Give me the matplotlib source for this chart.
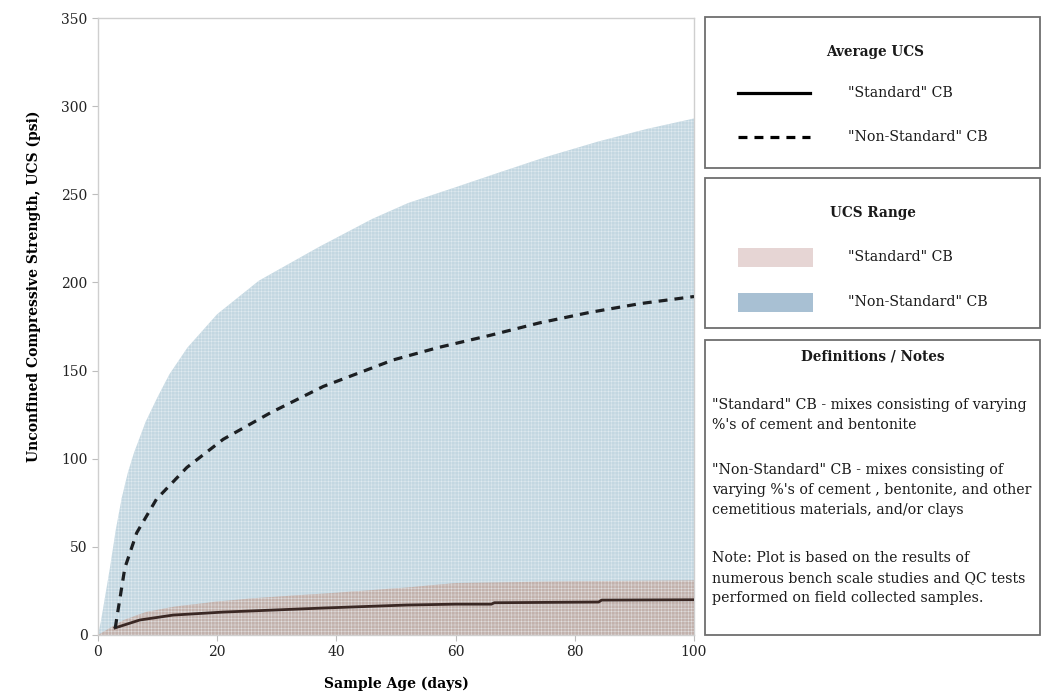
import numpy as np
import matplotlib
matplotlib.use("Agg")
import matplotlib.pyplot as plt
from matplotlib.patches import Rectangle
from matplotlib.lines import Line2D

plt.rcParams['font.family'] = ['DejaVu Serif']
plt.rcParams['hatch.color'] = '#eef3f6'
plt.rcParams['hatch.linewidth'] = 0.25

# --- data ---
# upper edge of "Non-Standard" UCS range
ns_range_x = [0, 0.5, 1, 2, 3, 4, 5, 6, 8, 10, 12, 15, 20, 27, 37, 46, 52, 60, 67, 75, 84, 92, 100]
ns_range_y = [0, 8, 18, 38, 60, 78, 92, 103, 121, 135, 148, 163, 182, 201, 220, 236, 245, 254, 262, 271, 280, 287, 293]
# upper edge of "Standard" UCS range
st_range_x = [0, 1, 3, 4.3, 8, 12.6, 20, 26.6, 40, 52, 60, 80, 100]
st_range_y = [0, 2, 6, 8.5, 13, 16, 19, 21, 24, 27, 29.5, 30.5, 31]
# average "Non-Standard" CB
ns_avg_x = [2.9, 3.1, 4.5, 6.5, 9.8, 14.9, 21, 28.9, 37.8, 49.5, 57, 65.8, 74, 82.5, 91, 100]
ns_avg_y = [4, 8.5, 38, 58, 77, 95, 111, 126, 141, 156, 163, 170, 177, 183, 188, 192]
# average "Standard" CB
st_avg_x = [2.85, 7, 12.6, 21, 37.8, 51.8, 60, 66, 66.5, 84, 84.5, 100]
st_avg_y = [4, 8.5, 11.3, 13, 15.3, 17, 17.5, 17.5, 18.3, 18.7, 19.8, 20]

xticks = [0, 20, 40, 60, 80, 100]
yticks = [0, 50, 100, 150, 200, 250, 300, 350]

W, H = 1042, 694
fig = plt.figure(figsize=(W / 100, H / 100), dpi=100)

def fx(p):
    return p / W

def fy(p):
    return 1 - p / H

ax = fig.add_axes([fx(98), fy(635), fx(694) - fx(98), fy(18) - fy(635)])

blue = '#c3d7e1'
brown = '#c2b1ac'
ax.fill_between(ns_range_x, 0, ns_range_y, facecolor=blue, edgecolor='none', hatch='+++++', zorder=2)
ax.fill_between(st_range_x, 0, st_range_y, facecolor=brown, edgecolor='none', hatch='+++++', zorder=3)
ax.plot(st_avg_x, st_avg_y, color='#3b2824', lw=2.0, zorder=4)
ax.plot(ns_avg_x, ns_avg_y, color='#1c1f22', lw=2.3, dashes=(2.8, 2.2), zorder=5)

ax.set_xlim(0, 100)
ax.set_ylim(0, 350)
ax.set_xticks(xticks)
ax.set_yticks(yticks)
for s in ax.spines.values():
    s.set_color('#cfcfcf')
    s.set_linewidth(1.0)
ax.tick_params(colors='#bdbdbd', length=4, width=0.8, labelsize=10, labelcolor='#222222')
ax.set_xlabel('Sample Age (days)', fontsize=10, fontweight='bold')
ax.set_ylabel('Unconfined Compressive Strength, UCS (psi)', fontsize=10, fontweight='bold')
ax.xaxis.set_label_coords(0.5, -0.068)
ax.yaxis.set_label_coords(-0.095, 0.566)

# --- legend / notes boxes on the right ---
def box(y0, y1):
    r = Rectangle((fx(705), fy(y1)), fx(1040) - fx(705), fy(y0) - fy(y1),
                  transform=fig.transFigure, facecolor='white', edgecolor='#6e6e6e', lw=1.3)
    fig.add_artist(r)

box(17, 168)
box(178, 328)
box(340, 635)

tkw = dict(transform=fig.transFigure, fontsize=10.2, color='#1a1a1a')
hkw = dict(transform=fig.transFigure, fontsize=9.8, color='#1a1a1a', fontweight='bold')
fig.text(fx(875), fy(52), 'Average UCS', ha='center', va='center', **hkw)
fig.add_artist(Line2D([fx(738), fx(810)], [fy(93), fy(93)], transform=fig.transFigure,
                      color='black', lw=2.3))
fig.add_artist(Line2D([fx(738), fx(810)], [fy(137), fy(137)], transform=fig.transFigure,
                      color='black', lw=2.3, dashes=(2.8, 2.2)))
fig.text(fx(848), fy(93), '"Standard" CB', ha='left', va='center', **tkw)
fig.text(fx(848), fy(137), '"Non-Standard" CB', ha='left', va='center', **tkw)

fig.text(fx(873), fy(213), 'UCS Range', ha='center', va='center', **hkw)
fig.add_artist(Rectangle((fx(738), fy(267)), fx(813) - fx(738), fy(248) - fy(267),
                         transform=fig.transFigure, facecolor='#e6d5d4', edgecolor='none'))
fig.add_artist(Rectangle((fx(738), fy(312)), fx(813) - fx(738), fy(293) - fy(312),
                         transform=fig.transFigure, facecolor='#a8c0d3', edgecolor='none'))
fig.text(fx(848), fy(257), '"Standard" CB', ha='left', va='center', **tkw)
fig.text(fx(848), fy(302), '"Non-Standard" CB', ha='left', va='center', **tkw)

fig.text(fx(873), fy(357), 'Definitions / Notes', ha='center', va='center', **hkw)
notes = [
    (405, '"Standard" CB - mixes consisting of varying'),
    (425, "%'s of cement and bentonite"),
    (470, '"Non-Standard" CB - mixes consisting of'),
    (490, "varying %'s of cement , bentonite, and other"),
    (510, 'cemetitious materials, and/or clays'),
    (558, 'Note: Plot is based on the results of'),
    (578, 'numerous bench scale studies and QC tests'),
    (598, 'performed on field collected samples.'),
]
for yp, line in notes:
    fig.text(fx(712), fy(yp), line, ha='left', va='center', **tkw)

fig.savefig('out.png', dpi=100)
